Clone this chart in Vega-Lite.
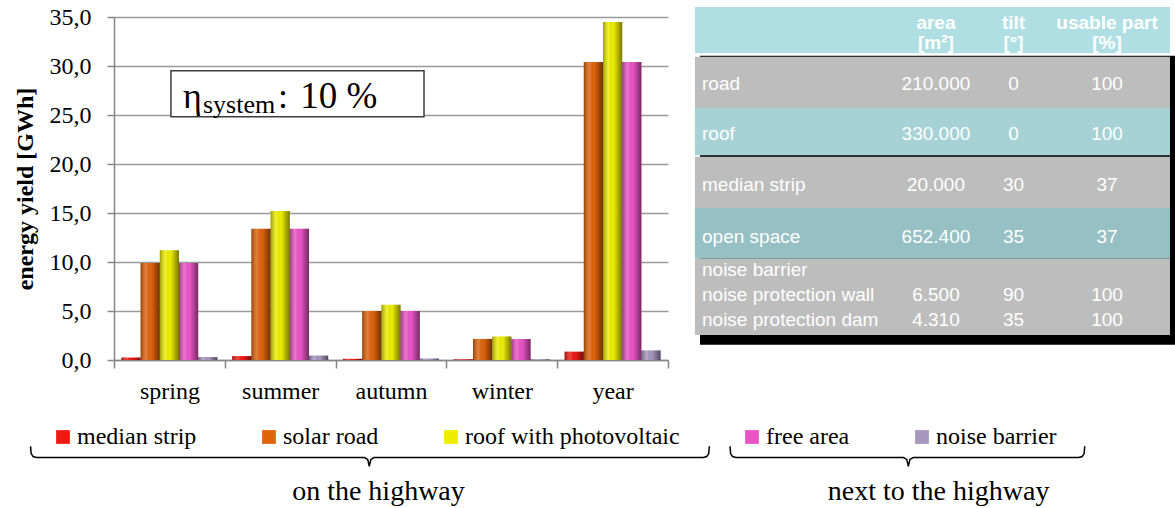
{
  "$schema": "https://vega.github.io/schema/vega-lite/v6.json",
  "width": 1175,
  "height": 508,
  "autosize": {"type": "none"},
  "padding": 0,
  "background": "#ffffff",
  "config": {"view": {"stroke": null}, "font": "Liberation Serif"},
  "datasets": {
    "energy": [
      {"season": "spring", "series": "median strip", "value": 0.25},
      {"season": "spring", "series": "solar road", "value": 9.9},
      {"season": "spring", "series": "roof with photovoltaic", "value": 11.2},
      {"season": "spring", "series": "free area", "value": 9.9},
      {"season": "spring", "series": "noise barrier", "value": 0.3},
      {"season": "summer", "series": "median strip", "value": 0.4},
      {"season": "summer", "series": "solar road", "value": 13.4},
      {"season": "summer", "series": "roof with photovoltaic", "value": 15.2},
      {"season": "summer", "series": "free area", "value": 13.4},
      {"season": "summer", "series": "noise barrier", "value": 0.45},
      {"season": "autumn", "series": "median strip", "value": 0.12},
      {"season": "autumn", "series": "solar road", "value": 5.0},
      {"season": "autumn", "series": "roof with photovoltaic", "value": 5.65},
      {"season": "autumn", "series": "free area", "value": 5.0},
      {"season": "autumn", "series": "noise barrier", "value": 0.15},
      {"season": "winter", "series": "median strip", "value": 0.07},
      {"season": "winter", "series": "solar road", "value": 2.15},
      {"season": "winter", "series": "roof with photovoltaic", "value": 2.4},
      {"season": "winter", "series": "free area", "value": 2.15},
      {"season": "winter", "series": "noise barrier", "value": 0.08},
      {"season": "year", "series": "median strip", "value": 0.85},
      {"season": "year", "series": "solar road", "value": 30.4},
      {"season": "year", "series": "roof with photovoltaic", "value": 34.5},
      {"season": "year", "series": "free area", "value": 30.4},
      {"season": "year", "series": "noise barrier", "value": 0.98}
    ],
    "braces": [
      {"brace": "on", "i": 0, "bx": -0.753, "by": -8.8},
      {"brace": "on", "i": 1, "bx": -0.748, "by": -9.55},
      {"brace": "on", "i": 2, "bx": -0.73, "by": -9.85},
      {"brace": "on", "i": 3, "bx": -0.7, "by": -9.95},
      {"brace": "on", "i": 4, "bx": 2.26, "by": -9.95},
      {"brace": "on", "i": 5, "bx": 2.29, "by": -10.15},
      {"brace": "on", "i": 6, "bx": 2.304, "by": -10.85},
      {"brace": "on", "i": 7, "bx": 2.318, "by": -10.15},
      {"brace": "on", "i": 8, "bx": 2.348, "by": -9.95},
      {"brace": "on", "i": 9, "bx": 5.32, "by": -9.95},
      {"brace": "on", "i": 10, "bx": 5.35, "by": -9.85},
      {"brace": "on", "i": 11, "bx": 5.368, "by": -9.55},
      {"brace": "on", "i": 12, "bx": 5.373, "by": -8.8},
      {"brace": "next", "i": 0, "bx": 5.56, "by": -8.8},
      {"brace": "next", "i": 1, "bx": 5.565, "by": -9.55},
      {"brace": "next", "i": 2, "bx": 5.583, "by": -9.85},
      {"brace": "next", "i": 3, "bx": 5.613, "by": -9.95},
      {"brace": "next", "i": 4, "bx": 7.125, "by": -9.95},
      {"brace": "next", "i": 5, "bx": 7.155, "by": -10.15},
      {"brace": "next", "i": 6, "bx": 7.169, "by": -10.85},
      {"brace": "next", "i": 7, "bx": 7.183, "by": -10.15},
      {"brace": "next", "i": 8, "bx": 7.213, "by": -9.95},
      {"brace": "next", "i": 9, "bx": 8.708, "by": -9.95},
      {"brace": "next", "i": 10, "bx": 8.738, "by": -9.85},
      {"brace": "next", "i": 11, "bx": 8.756, "by": -9.55},
      {"brace": "next", "i": 12, "bx": 8.761, "by": -8.8}
    ],
    "tbands": [
      {"band": "header", "kind": "header", "top": 0.04, "bot": 0.95},
      {"band": "road", "kind": "dotted", "top": 1.02, "bot": 2.03},
      {"band": "roof", "kind": "teal1", "top": 2.03, "bot": 2.96},
      {"band": "median strip", "kind": "dotted", "top": 2.99, "bot": 4.0},
      {"band": "open space", "kind": "teal2", "top": 4.0, "bot": 5.0},
      {"band": "noise barrier", "kind": "dotted", "top": 5.0, "bot": 6.5}
    ],
    "thead": [
      {"ln": 0.345, "area": "area", "tilt": "tilt", "usable": "usable part"},
      {"ln": 0.75, "area": "[m²]", "tilt": "[°]", "usable": "[%]"}
    ],
    "tbody": [
      {"ln": 1.555, "label": "road", "area": "210.000", "tilt": "0", "usable": "100"},
      {"ln": 2.54, "label": "roof", "area": "330.000", "tilt": "0", "usable": "100"},
      {"ln": 3.54, "label": "median strip", "area": "20.000", "tilt": "30", "usable": "37"},
      {"ln": 4.57, "label": "open space", "area": "652.400", "tilt": "35", "usable": "37"},
      {"ln": 5.22, "label": "noise barrier", "area": "", "tilt": "", "usable": ""},
      {"ln": 5.71, "label": "noise protection wall", "area": "6.500", "tilt": "90", "usable": "100"},
      {"ln": 6.2, "label": "noise protection dam", "area": "4.310", "tilt": "35", "usable": "100"}
    ]
  },
  "layer": [
    {
      "data": {"name": "energy"},
      "layer": [
        {
          "mark": {"type": "bar"},
          "encoding": {
            "x": {
              "field": "season", "type": "nominal",
              "sort": ["spring", "summer", "autumn", "winter", "year"],
              "scale": {"range": [114, 668], "paddingInner": 0, "paddingOuter": 0},
              "axis": {
                "title": null, "offset": -148, "tickBand": "extent", "labelAngle": 0,
                "labelFont": "Liberation Serif", "labelFontSize": 24, "labelColor": "#000000",
                "labelPadding": 11, "tickSize": 8, "tickColor": "#868686", "tickWidth": 1.5,
                "domainColor": "#868686", "domainWidth": 1.5, "grid": false
              }
            },
            "xOffset": {
              "field": "series", "type": "nominal",
              "sort": ["median strip", "solar road", "roof with photovoltaic", "free area", "noise barrier"],
              "scale": {"paddingInner": 0, "paddingOuter": 0.385}
            },
            "y": {
              "field": "value", "type": "quantitative",
              "scale": {"domain": [0, 35], "range": [360, 17], "nice": false},
              "axis": {
                "offset": -114, "values": [0, 5, 10, 15, 20, 25, 30, 35],
                "labelExpr": "replace(format(datum.value, '.1f'), '.', ',')",
                "labelFont": "Liberation Serif", "labelFontSize": 24, "labelColor": "#000000",
                "labelPadding": 16, "tickSize": 7, "tickColor": "#868686", "tickWidth": 1.5,
                "domainColor": "#868686", "domainWidth": 1.5,
                "grid": true, "gridColor": "#9a9a9a", "gridWidth": 1.4,
                "title": "energy yield [GWh]", "titleFont": "Liberation Serif", "titleFontSize": 24,
                "titleFontWeight": "bold", "titleColor": "#000000", "titlePadding": 12
              }
            },
            "color": {
              "field": "series", "type": "nominal",
              "scale": {
                "domain": ["median strip", "solar road", "roof with photovoltaic", "free area", "noise barrier"],
                "range": ["#ee1a14", "#e0640c", "#eeee00", "#ea55c6", "#a797bf"]
              },
              "legend": {
                "orient": "none", "legendX": 51, "legendY": 425, "direction": "horizontal",
                "columns": 5, "gridAlign": "none", "title": null, "symbolType": "square",
                "symbolSize": 190, "symbolStrokeWidth": 0, "labelFont": "Liberation Serif",
                "labelFontSize": 24, "labelColor": "#000000", "labelOffset": 2,
                "columnPadding": 60, "labelLimit": 0, "padding": 0, "symbolOffset": 0
              }
            }
          }
        },
        {
          "mark": {
            "type": "bar",
            "color": {
              "gradient": "linear", "x1": 0, "y1": 0, "x2": 1, "y2": 0,
              "stops": [
                {"offset": 0, "color": "rgba(0,0,0,0.35)"},
                {"offset": 0.3, "color": "rgba(255,255,255,0.18)"},
                {"offset": 0.55, "color": "rgba(0,0,0,0)"},
                {"offset": 1, "color": "rgba(0,0,0,0.5)"}
              ]
            }
          },
          "encoding": {
            "x": {"field": "season", "type": "nominal", "sort": ["spring", "summer", "autumn", "winter", "year"]},
            "xOffset": {"field": "series", "type": "nominal", "sort": ["median strip", "solar road", "roof with photovoltaic", "free area", "noise barrier"]},
            "y": {"field": "value", "type": "quantitative"}
          }
        }
      ]
    },
    {
      "layer": [
        {
          "data": {"values": [{}]},
          "mark": {"type": "rect", "fill": "#ffffff", "stroke": "#3c3c3c", "strokeWidth": 1.5},
          "encoding": {
            "x": {"datum": 0.514, "type": "quantitative", "scale": {"domain": [0, 5], "range": [114, 668], "nice": false, "zero": false}, "axis": null},
            "x2": {"datum": 2.798},
            "y": {"datum": 29.52, "type": "quantitative", "scale": {"domain": [0, 35], "range": [360, 17], "nice": false, "zero": false}, "axis": null},
            "y2": {"datum": 24.83}
          }
        },
        {
          "data": {"values": [{}]},
          "mark": {"type": "text", "text": "η", "font": "Liberation Serif", "fontSize": 36, "align": "left", "baseline": "alphabetic", "color": "#000000"},
          "encoding": {
            "x": {"datum": 0.623, "type": "quantitative"},
            "y": {"datum": 25.68, "type": "quantitative"}
          }
        },
        {
          "data": {"values": [{}]},
          "mark": {"type": "text", "text": "system", "font": "Liberation Serif", "fontSize": 26, "align": "left", "baseline": "alphabetic", "color": "#000000"},
          "encoding": {
            "x": {"datum": 0.803, "type": "quantitative"},
            "y": {"datum": 25.2, "type": "quantitative"}
          }
        },
        {
          "data": {"values": [{}]},
          "mark": {"type": "text", "text": ":", "font": "Liberation Serif", "fontSize": 36, "align": "left", "baseline": "alphabetic", "color": "#000000"},
          "encoding": {
            "x": {"datum": 1.48, "type": "quantitative"},
            "y": {"datum": 25.68, "type": "quantitative"}
          }
        },
        {
          "data": {"values": [{}]},
          "mark": {"type": "text", "text": "10 %", "font": "Liberation Serif", "fontSize": 37, "align": "left", "baseline": "alphabetic", "color": "#000000"},
          "encoding": {
            "x": {"datum": 1.68, "type": "quantitative"},
            "y": {"datum": 25.68, "type": "quantitative"}
          }
        },
        {
          "data": {"name": "braces"},
          "mark": {"type": "line", "stroke": "#000000", "strokeWidth": 1.5, "interpolate": "linear"},
          "encoding": {
            "x": {"field": "bx", "type": "quantitative"},
            "y": {"field": "by", "type": "quantitative"},
            "detail": {"field": "brace", "type": "nominal"},
            "order": {"field": "i", "type": "quantitative"}
          }
        },
        {
          "data": {"values": [{}]},
          "mark": {"type": "text", "text": "on the highway", "font": "Liberation Serif", "fontSize": 28, "align": "center", "baseline": "alphabetic", "color": "#000000"},
          "encoding": {
            "x": {"datum": 2.387, "type": "quantitative"},
            "y": {"datum": -14.3, "type": "quantitative"}
          }
        },
        {
          "data": {"values": [{}]},
          "mark": {"type": "text", "text": "next to the highway", "font": "Liberation Serif", "fontSize": 28, "align": "center", "baseline": "alphabetic", "color": "#000000"},
          "encoding": {
            "x": {"datum": 7.442, "type": "quantitative"},
            "y": {"datum": -14.3, "type": "quantitative"}
          }
        }
      ]
    },
    {
      "layer": [
        {
          "data": {"values": [{}]},
          "mark": {"type": "rect", "color": "#000000"},
          "encoding": {
            "x": {"datum": 0.0145, "type": "quantitative", "scale": {"domain": [0, 1], "range": [693, 1175], "nice": false, "zero": false}, "axis": null},
            "x2": {"datum": 1.0},
            "y": {"datum": 1.0, "type": "quantitative", "scale": {"domain": [0, 6.5], "range": [5, 335], "nice": false, "zero": false}, "axis": null},
            "y2": {"datum": 6.69}
          }
        },
        {
          "data": {"name": "tbands"},
          "mark": {"type": "rect"},
          "encoding": {
            "x": {"datum": 0.004, "type": "quantitative"},
            "x2": {"datum": 0.9896},
            "y": {"field": "top", "type": "quantitative"},
            "y2": {"field": "bot"},
            "fill": {
              "field": "kind", "type": "nominal",
              "scale": {"domain": ["header", "dotted", "teal1", "teal2"], "range": ["#b0dfe3", "#bdbdbd", "#a6d2d6", "#96c0c4"]},
              "legend": null
            }
          }
        },
        {
          "data": {"name": "thead"},
          "mark": {"type": "text", "font": "Liberation Sans", "fontSize": 19, "fontWeight": "bold", "color": "#ffffff", "align": "center", "baseline": "middle"},
          "encoding": {
            "x": {"datum": 0.504, "type": "quantitative"},
            "y": {"field": "ln", "type": "quantitative"},
            "text": {"field": "area"}
          }
        },
        {
          "data": {"name": "thead"},
          "mark": {"type": "text", "font": "Liberation Sans", "fontSize": 19, "fontWeight": "bold", "color": "#ffffff", "align": "center", "baseline": "middle"},
          "encoding": {
            "x": {"datum": 0.665, "type": "quantitative"},
            "y": {"field": "ln", "type": "quantitative"},
            "text": {"field": "tilt"}
          }
        },
        {
          "data": {"name": "thead"},
          "mark": {"type": "text", "font": "Liberation Sans", "fontSize": 19, "fontWeight": "bold", "color": "#ffffff", "align": "center", "baseline": "middle"},
          "encoding": {
            "x": {"datum": 0.859, "type": "quantitative"},
            "y": {"field": "ln", "type": "quantitative"},
            "text": {"field": "usable"}
          }
        },
        {
          "data": {"name": "tbody"},
          "mark": {"type": "text", "font": "Liberation Sans", "fontSize": 19, "color": "#ffffff", "align": "left", "baseline": "middle"},
          "encoding": {
            "x": {"datum": 0.0187, "type": "quantitative"},
            "y": {"field": "ln", "type": "quantitative"},
            "text": {"field": "label"}
          }
        },
        {
          "data": {"name": "tbody"},
          "mark": {"type": "text", "font": "Liberation Sans", "fontSize": 19, "color": "#ffffff", "align": "center", "baseline": "middle"},
          "encoding": {
            "x": {"datum": 0.504, "type": "quantitative"},
            "y": {"field": "ln", "type": "quantitative"},
            "text": {"field": "area"}
          }
        },
        {
          "data": {"name": "tbody"},
          "mark": {"type": "text", "font": "Liberation Sans", "fontSize": 19, "color": "#ffffff", "align": "center", "baseline": "middle"},
          "encoding": {
            "x": {"datum": 0.665, "type": "quantitative"},
            "y": {"field": "ln", "type": "quantitative"},
            "text": {"field": "tilt"}
          }
        },
        {
          "data": {"name": "tbody"},
          "mark": {"type": "text", "font": "Liberation Sans", "fontSize": 19, "color": "#ffffff", "align": "center", "baseline": "middle"},
          "encoding": {
            "x": {"datum": 0.859, "type": "quantitative"},
            "y": {"field": "ln", "type": "quantitative"},
            "text": {"field": "usable"}
          }
        }
      ]
    }
  ],
  "resolve": {"scale": {"x": "independent", "y": "independent"}}
}
